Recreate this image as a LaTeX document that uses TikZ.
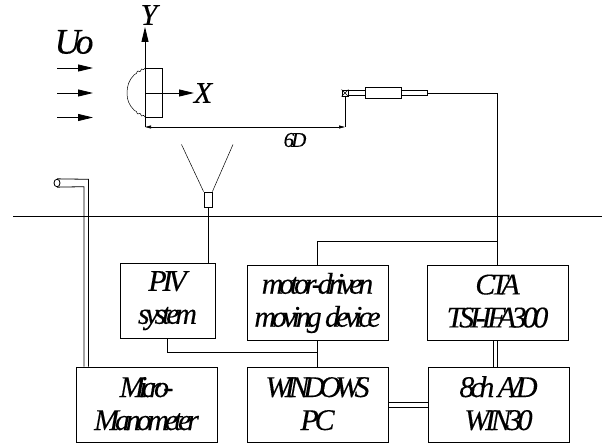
\documentclass[tikz,border=0pt]{standalone}
\usepackage{fontspec}
\usetikzlibrary{arrows.meta,shapes.geometric}
\newfontfamily\labelfont[LetterSpace=-14,FakeBold=0.25]{Liberation Serif}
\newfontfamily\tightfont[LetterSpace=-19,FakeBold=0.25]{Liberation Serif}
\newcommand\boxlines[3]{\rule{0pt}{#1pt}#2\\#3\rule[-4pt]{0pt}{4pt}}
\tikzset{
  box/.style={draw,line width=0.8pt,minimum width=141pt,minimum height=75pt,inner sep=0pt,align=center,
    font=\labelfont\itshape\fontsize{30}{33}\selectfont},
  biglabel/.style={inner sep=0pt,font=\labelfont\itshape\fontsize{30}{33}\selectfont},
  flowarrow/.style={line width=0.8pt,dash pattern=on 1.5pt off 0.5pt,-{Triangle[length=15pt,width=7pt]}},
  endarrow/.style={{Triangle[length=6pt,width=3pt]}-{Triangle[length=6pt,width=3pt]}},
}
\begin{document}
\begin{tikzpicture}[x=1pt,y=-1pt,line width=0.8pt]
    \useasboundingbox (0,0) rectangle (602,443);
    % boxes
    \node [box,minimum width=95pt] (piv) at (167.5,300.5) {\boxlines{20}{PIV}{system}};
    \node [box] (motor) at (317.5,303) {\boxlines{18}{motor-driven}{moving device}};
    \node [box] (cta) at (497.5,303) {\boxlines{18}{CTA}{TSI-IFA300}};
    \node [box] (micro) at (146.5,404.5) {\boxlines{22}{\tightfont\itshape Micro-}{Manometer}};
    \node [box] (pc) at (317.5,404.5) {\boxlines{22}{\tightfont\itshape WINDOWS}{PC}};
    \node [box] (ad) at (498.5,404.5) {\boxlines{22}{8ch A/D}{WIN30}};
    % wall
    \coordinate (wallL) at (13,216);
    \coordinate (wallR) at (602,216);
    \draw (wallL) -- (wallR);
    % flow and axes
    \node [biglabel,font=\labelfont\itshape\fontsize{36}{36}\selectfont] (uo) at (74,42) {Uo};
    \foreach \y in {68,93,117.5}
        \draw [flowarrow] (57,\y) -- (93,\y);
    \coordinate (origin) at (145,93);
    \coordinate (base) at (145,127);
    \coordinate (yend) at (145,27);
    \coordinate (xend) at (194,93);
    \node [biglabel] (ylabel) at (149,15) {Y};
    \node [biglabel] (xlabel) at (203,93) {X};
    \draw [flowarrow] (base) -- (yend);
    \draw [flowarrow] (origin) -- (xend);
    % model
    \draw (145,68) -- (162.5,68) -- (162.5,117) -- (145,117);
    \draw [line width=0.5pt] (145,68) .. controls (143,72) and (142,67) .. (141,70)
        .. controls (140,74) and (138,69) .. (137,72)
        .. controls (136,76) and (135,72) .. (134,75)
        .. controls (129,80) and (127,86) .. (127,93)
        .. controls (127,100) and (129,105) .. (134,110)
        .. controls (135,113) and (136,109) .. (137,113)
        .. controls (138,116) and (140,111) .. (141,115)
        .. controls (142,118) and (143,113) .. (145,117);
    % probe
    \node [draw,minimum width=6pt,minimum height=6pt,inner sep=0pt] (tip) at (345,93) {};
    \draw [line width=0.5pt] (tip.north west) -- (tip.south east) (tip.north east) -- (tip.south west);
    \node [draw,minimum width=79pt,minimum height=5pt,inner sep=0pt] (stem) at (387.5,93) {};
    \node [draw,fill=white,minimum width=36pt,minimum height=11pt,inner sep=0pt] (holder) at (383,93) {};
    \coordinate (probefoot) at (345,127);
    \draw [endarrow,line width=0.7pt] (base) -- (probefoot);
    \draw (probefoot) -- (tip.south);
    \node [inner sep=0pt,font=\labelfont\itshape\fontsize{21}{21}\selectfont] (sixd) at (295,140) {6D};
    \draw (stem.east) -| (cta.north);
    \coordinate (tee) at (cta.north |- 0,241);
    \draw (motor.north) |- (tee);
    % camera
    \node [draw,minimum width=8pt,minimum height=15pt,inner sep=0pt] (camera) at (208,199.5) {};
    \coordinate (viewL) at (181.5,144.5);
    \coordinate (viewR) at (233,144.5);
    \draw [line width=0.5pt] (camera.north west) -- (viewL);
    \draw [line width=0.5pt] (camera.north east) -- (viewR);
    \draw (camera.south) -- (camera.south |- piv.north);
    % pitot tube
    \node [draw,ellipse,minimum width=6pt,minimum height=7.5pt,inner sep=0pt] (pitot) at (57,183) {};
    \coordinate (bendO) at (88.5,179.3);
    \coordinate (bendI) at (84,186.7);
    \draw (pitot.north) -- (bendO) -- (bendO |- micro.north);
    \draw (pitot.south) -- (bendI) -- (bendI |- micro.north);
    % links
    \coordinate (bus) at (317.5,352.3);
    \draw (piv.south) |- (bus);
    \draw (motor.south) -- (pc.north);
    \draw ([xshift=-3.8pt]cta.south) -- ([xshift=-4.8pt]ad.north);
    \draw (cta.south) -- ([xshift=-1pt]ad.north);
    \draw ([yshift=2.5pt]pc.east) -- ([yshift=2.5pt]ad.west);
    \draw ([yshift=-2.5pt]pc.east) -- ([yshift=-2.5pt]ad.west);
\end{tikzpicture}
\end{document}
